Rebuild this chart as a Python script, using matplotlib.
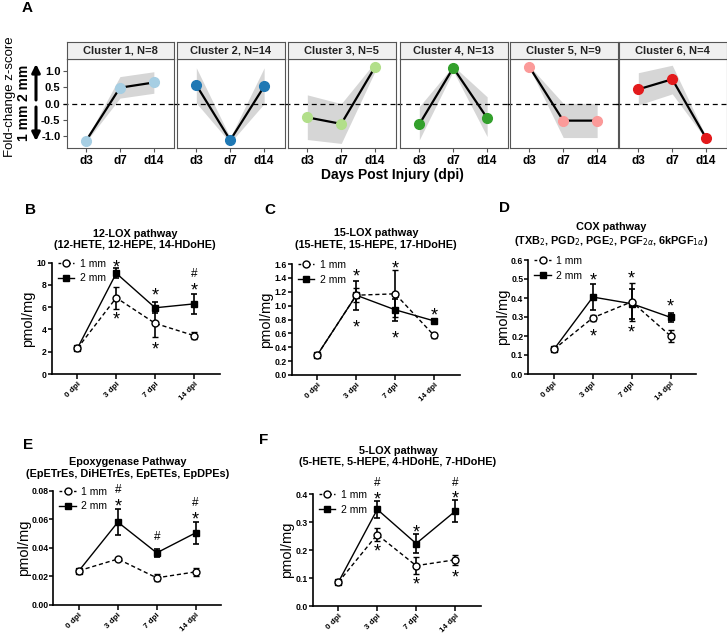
import matplotlib
matplotlib.use("Agg")
import matplotlib.pyplot as plt
from matplotlib.lines import Line2D

plt.rcParams['font.family'] = ['Liberation Sans', 'DejaVu Sans']

# ---- panel A data (cluster z-score trajectories) ----
cluster_names = ['Cluster 1, N=8', 'Cluster 2, N=14', 'Cluster 3, N=5',
                 'Cluster 4, N=13', 'Cluster 5, N=9', 'Cluster 6, N=4']
cluster_colors = ['#a6cee3', '#1f78b4', '#b2df8a', '#33a02c', '#fb9a99', '#e31a1c']
days_a = ['d3', 'd7', 'd14']
z_mean = [[-1.14, 0.49, 0.65], [0.57, -1.12, 0.53], [-0.42, -0.62, 1.13],
          [-0.63, 1.10, -0.44], [1.13, -0.52, -0.52], [0.44, 0.75, -1.06]]
z_lo = [[-1.17, 0.17, 0.32], [0.02, -1.20, 0.0], [-1.10, -1.22, 1.00],
        [-1.11, 1.00, -1.01], [1.10, -1.04, -1.04], [-0.04, 0.30, -1.10]]
z_hi = [[-1.11, 0.83, 0.98], [1.10, -1.04, 1.10], [0.27, 0.00, 1.28],
        [-0.09, 1.16, 0.21], [1.16, 0.01, 0.01], [0.95, 1.18, -1.02]]

# ---- panels B-F data ----
dpi_labels = ['0 dpi', '3 dpi', '7 dpi', '14 dpi']

b_1mm = [2.3, 6.85, 4.55, 3.45]
b_1mm_err = [0.1, 1.0, 1.2, 0.3]
b_2mm = [2.3, 9.05, 5.95, 6.3]
b_2mm_err = [0.1, 0.45, 0.5, 0.9]

c_1mm = [0.29, 1.15, 1.17, 0.57]
c_1mm_err = [0.02, 0.1, 0.34, 0.04]
c_2mm = [0.29, 1.15, 0.94, 0.78]
c_2mm_err = [0.02, 0.21, 0.16, 0.03]

d_1mm = [0.13, 0.296, 0.38, 0.20]
d_1mm_err = [0.005, 0.015, 0.10, 0.03]
d_2mm = [0.13, 0.405, 0.37, 0.298]
d_2mm_err = [0.005, 0.07, 0.08, 0.025]

e_1mm = [0.024, 0.0322, 0.0190, 0.0232]
e_1mm_err = [0.001, 0.001, 0.0025, 0.003]
e_2mm = [0.024, 0.058, 0.0365, 0.0505]
e_2mm_err = [0.001, 0.0092, 0.003, 0.0075]

f_1mm = [0.085, 0.255, 0.144, 0.165]
f_1mm_err = [0.003, 0.022, 0.03, 0.018]
f_2mm = [0.085, 0.345, 0.223, 0.338]
f_2mm_err = [0.003, 0.031, 0.035, 0.039]

# significance marks: (symbol, dpi index, y value)
b_sig = [('*', 1, 9.95), ('*', 1, 5.3), ('*', 2, 7.46), ('*', 2, 2.6),
         ('#', 3, 9.05), ('*', 3, 7.9)]
c_sig = [('*', 1, 1.49), ('*', 1, 0.75), ('*', 2, 1.6), ('*', 2, 0.6), ('*', 3, 0.93)]
d_sig = [('*', 1, 0.515), ('*', 1, 0.22), ('*', 2, 0.53), ('*', 2, 0.245), ('*', 3, 0.38)]
e_sig = [('#', 1, 0.081), ('*', 1, 0.0725), ('#', 2, 0.0485),
         ('#', 3, 0.0725), ('*', 3, 0.0635)]
f_sig = [('#', 1, 0.442), ('*', 1, 0.399), ('*', 1, 0.21), ('*', 2, 0.279),
         ('*', 2, 0.093), ('#', 3, 0.442), ('*', 3, 0.401), ('*', 3, 0.119)]

W, H = 727, 633
fig = plt.figure(figsize=(W / 100, H / 100), dpi=100)


def px_axes(l, t, r, b):
    return fig.add_axes([l / W, 1 - b / H, (r - l) / W, (b - t) / H])


def fig_text(x, y, s, **kw):
    fig.text(x / W, 1 - y / H, s, **kw)


# ================= panel A =================
fig_text(27, 8, 'A', fontsize=11, fontweight='bold', ha='center', va='center')
cluster_left = [66.7, 177, 288, 400, 510, 619]
xs = [1, 2, 3]
for i, name in enumerate(cluster_names):
    l = cluster_left[i]
    ax = px_axes(l, 58.7, l + 107.5, 148)
    strip = px_axes(l, 42, l + 107.5, 58.7)
    strip.set_facecolor('#f0f0f0')
    strip.set_xticks([])
    strip.set_yticks([])
    for s in strip.spines.values():
        s.set_color('#555555')
    strip.text(0.5, 0.5, name, transform=strip.transAxes, ha='center', va='center',
               fontsize=8, fontweight='bold', color='#222222')

    ax.fill_between(xs, z_lo[i], z_hi[i], color='#d6d6d6', lw=0, zorder=1)
    ax.axhline(0, xmin=-0.03, xmax=1.03, color='k', lw=0.9, ls=(0, (4, 3)),
               clip_on=False, zorder=2)
    ax.plot(xs, z_mean[i], color='k', lw=1.6, zorder=3)
    ax.plot(xs, z_mean[i], 'o', color=cluster_colors[i], ms=7, zorder=4)
    ax.set_xlim(0.43, 3.6)
    ax.set_ylim(-1.36, 1.38)
    ax.set_xticks(xs)
    ax.set_xticklabels(days_a, fontsize=8.5, fontweight='bold')
    for s in ax.spines.values():
        s.set_color('#555555')
    ax.tick_params(axis='x', length=3, color='#555555', pad=2)
    if i == 0:
        ax.set_yticks([1.0, 0.5, 0.0, -0.5, -1.0])
        ax.set_yticklabels(['1.0', '0.5', '0.0', '-0.5', '-1.0'], fontsize=8,
                           fontweight='bold')
        ax.tick_params(axis='y', length=3, color='#555555', pad=1.5)
    else:
        ax.set_yticks([])

fig_text(392, 175, 'Days Post Injury (dpi)', fontsize=10, fontweight='bold',
         ha='center', va='center')
fig_text(10, 97, 'Fold-change z-score', fontsize=9.5, rotation=90,
         ha='center', va='center')
fig_text(24, 83, '2 mm', fontsize=10, fontweight='bold', rotation=90,
         ha='center', va='center')
fig_text(24, 123, '1 mm', fontsize=10, fontweight='bold', rotation=90,
         ha='center', va='center')
arrow = dict(arrowstyle='-|>', lw=2.2, color='k', mutation_scale=12, shrinkA=0, shrinkB=0)
fig.add_artist(plt.Annotation('', xy=(36 / W, 1 - 64 / H), xytext=(36 / W, 1 - 100 / H),
                              xycoords='figure fraction', arrowprops=arrow))
fig.add_artist(plt.Annotation('', xy=(36 / W, 1 - 141 / H), xytext=(36 / W, 1 - 107 / H),
                              xycoords='figure fraction', arrowprops=arrow))


# ================= panels B-F =================
def lipid_panel(letter, letter_xy, left, top, bottom, title, title_xy, ylab_dx,
                y1, e1, y2, e2, ymax, ystep, fmt, sig):
    ax = px_axes(left, top, left + 168, bottom)
    x = range(len(dpi_labels))
    ax.errorbar(x, y2, yerr=e2, fmt='s-', color='k', ms=4.5, lw=1,
                elinewidth=1.2, capsize=2.2, capthick=1.2, zorder=3)
    ax.errorbar(x, y1, yerr=e1, fmt='o', color='k', mfc='white', mec='k', mew=1,
                ms=5, ls=(0, (3, 2)), lw=1, elinewidth=1.2, capsize=2.2,
                capthick=1.2, zorder=4)
    ax.set_xlim(-0.66, 3.66)
    ax.set_ylim(0, ymax)
    ticks = [k * ystep for k in range(int(round(ymax / ystep)) + 1)]
    ax.set_yticks(ticks)
    ax.set_yticklabels([fmt.format(t) for t in ticks], fontsize=6.2, fontweight='bold')
    ax.set_xticks(list(x))
    ax.set_xticklabels(dpi_labels, fontsize=5.8, fontweight='bold', rotation=45,
                       ha='right', rotation_mode='anchor')
    ax.spines['top'].set_visible(False)
    ax.spines['right'].set_visible(False)
    for s in ['left', 'bottom']:
        ax.spines[s].set_linewidth(1.2)
    ax.tick_params(axis='y', length=2.8, width=1.1, pad=0.8)
    ax.tick_params(axis='x', length=3.5, width=1.1, pad=1.5)
    fig_text(left - ylab_dx, (top + bottom) / 2, 'pmol/mg', fontsize=10.5, rotation=90,
             ha='center', va='center')
    handles = [Line2D([], [], color='k', ls=(0, (2, 1.5)), lw=1, marker='o', ms=5,
                      mfc='white', mec='k'),
               Line2D([], [], color='k', ls='-', lw=1, marker='s', ms=4.5)]
    ax.legend(handles, ['1 mm', '2 mm'], loc='upper left', bbox_to_anchor=(0.03, 1.045),
              frameon=False, fontsize=7.5, handlelength=1.6, handletextpad=0.5,
              labelspacing=0.45, borderaxespad=0, borderpad=0.1, numpoints=1)
    for sym, xi, yv in sig:
        if sym == '*':
            ax.annotate('*', (xi, yv), xytext=(0, -7.0), textcoords='offset points',
                        ha='center', va='baseline', fontsize=13, annotation_clip=False)
        else:
            ax.annotate('#', (xi, yv), xytext=(0, -3.0), textcoords='offset points',
                        ha='center', va='baseline', fontsize=8.5, annotation_clip=False)
    fig_text(letter_xy[0], letter_xy[1], letter, fontsize=11, fontweight='bold',
             ha='center', va='center')
    fig_text(title_xy[0], title_xy[1], title, fontsize=7.8, fontweight='bold',
             ha='center', va='center', linespacing=1.2)
    return ax


lipid_panel('B', (31, 210), 51.7, 262.7, 374,
            '12-LOX pathway\n(12-HETE, 12-HEPE, 14-HDoHE)', (135, 239.5), 23.5,
            b_1mm, b_1mm_err, b_2mm, b_2mm_err, 10, 2, '{:.0f}', b_sig)
lipid_panel('C', (270, 210), 291.7, 264, 375,
            '15-LOX pathway\n(15-HETE, 15-HEPE, 17-HDoHE)', (376, 239), 25.5,
            c_1mm, c_1mm_err, c_2mm, c_2mm_err, 1.6, 0.2, '{:.1f}', c_sig)
lipid_panel('D', (504, 208), 528.3, 260, 374,
            'COX pathway\n(TXB$_2$, PGD$_2$, PGE$_2$, PGF$_{2\\alpha}$, 6kPGF$_{1\\alpha}$)',
            (611, 235), 25.5, d_1mm, d_1mm_err, d_2mm, d_2mm_err, 0.6, 0.1, '{:.1f}', d_sig)
lipid_panel('E', (28, 445), 53.3, 490.7, 605,
            'Epoxygenase Pathway\n(EpETrEs, DiHETrEs, EpETEs, EpDPEs)', (128, 468), 29.5,
            e_1mm, e_1mm_err, e_2mm, e_2mm_err, 0.08, 0.02, '{:.2f}', e_sig)
lipid_panel('F', (264, 440), 312.7, 494, 606,
            '5-LOX pathway\n(5-HETE, 5-HEPE, 4-HDoHE, 7-HDoHE)', (398, 456.5), 25.5,
            f_1mm, f_1mm_err, f_2mm, f_2mm_err, 0.4, 0.1, '{:.1f}', f_sig)

fig.savefig('out.png', dpi=100)
